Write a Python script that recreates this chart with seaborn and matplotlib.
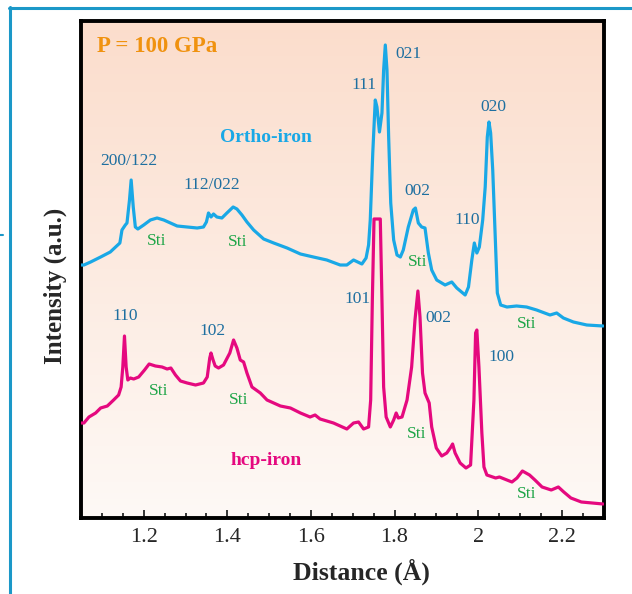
import numpy as np
import pandas as pd
import matplotlib
matplotlib.use("Agg")
import matplotlib.pyplot as plt
from matplotlib.ticker import MultipleLocator, FuncFormatter
from matplotlib.lines import Line2D
import seaborn as sns

# ---------------- data ----------------
ortho_d = [1.051, 1.057, 1.073, 1.097, 1.120, 1.143, 1.148, 1.156, 1.160, 1.166,
           1.170, 1.175, 1.180, 1.186, 1.200, 1.216, 1.232, 1.248, 1.264, 1.280,
           1.304, 1.328, 1.343, 1.350, 1.355, 1.361, 1.367, 1.375, 1.387, 1.399,
           1.414, 1.423, 1.435, 1.447, 1.463, 1.487, 1.511, 1.543, 1.575, 1.606,
           1.638, 1.670, 1.686, 1.702, 1.722, 1.732, 1.738, 1.742, 1.748, 1.754,
           1.758, 1.764, 1.770, 1.774, 1.778, 1.782, 1.786, 1.791, 1.798, 1.806,
           1.814, 1.821, 1.833, 1.845, 1.850, 1.857, 1.865, 1.873, 1.881, 1.889,
           1.901, 1.921, 1.937, 1.949, 1.969, 1.977, 1.985, 1.991, 1.997, 2.003,
           2.011, 2.017, 2.022, 2.026, 2.030, 2.035, 2.041, 2.046, 2.054, 2.069,
           2.092, 2.116, 2.140, 2.172, 2.188, 2.204, 2.228, 2.260, 2.299]
ortho_i = [253, 253, 256, 261, 266, 275, 288, 293, 295, 318,
           338, 311, 291, 289, 293, 298, 300, 298, 295, 292,
           291, 290, 291, 296, 305, 301, 304, 301, 300, 305,
           311, 309, 303, 296, 288, 279, 275, 270, 264, 261,
           258, 253, 253, 258, 254, 260, 273, 298, 365, 418,
           411, 386, 405, 448, 473, 448, 381, 315, 278, 263,
           261, 268, 291, 308, 310, 295, 291, 290, 265, 248,
           238, 233, 236, 230, 223, 231, 258, 275, 265, 271,
           298, 331, 381, 396, 385, 348, 281, 225, 213, 211,
           212, 211, 208, 203, 205, 200, 196, 193, 192]

hcp_d = [1.051, 1.057, 1.069, 1.085, 1.097, 1.113, 1.128, 1.140, 1.146, 1.150,
         1.154, 1.158, 1.162, 1.168, 1.176, 1.188, 1.202, 1.213, 1.228, 1.244,
         1.256, 1.265, 1.276, 1.288, 1.304, 1.324, 1.343, 1.352, 1.358, 1.361,
         1.366, 1.371, 1.379, 1.391, 1.406, 1.415, 1.423, 1.431, 1.439, 1.447,
         1.459, 1.479, 1.495, 1.527, 1.551, 1.575, 1.598, 1.610, 1.622, 1.654,
         1.686, 1.702, 1.714, 1.726, 1.738, 1.743, 1.747, 1.751, 1.766, 1.770,
         1.774, 1.780, 1.790, 1.798, 1.804, 1.809, 1.818, 1.830, 1.841, 1.849,
         1.856, 1.861, 1.867, 1.873, 1.883, 1.889, 1.900, 1.913, 1.925, 1.935,
         1.939, 1.945, 1.957, 1.971, 1.982, 1.990, 1.994, 1.997, 2.002, 2.009,
         2.014, 2.021, 2.042, 2.051, 2.063, 2.081, 2.093, 2.106, 2.123, 2.136,
         2.153, 2.175, 2.192, 2.205, 2.222, 2.247, 2.273, 2.299]
hcp_i = [95, 95, 101, 105, 110, 112, 118, 123, 131, 151,
         182, 151, 138, 140, 139, 141, 148, 154, 152, 151,
         149, 150, 143, 137, 135, 133, 135, 141, 160, 165,
         158, 152, 150, 153, 165, 178, 170, 158, 156, 145,
         131, 125, 118, 112, 110, 105, 101, 103, 99, 95,
         89, 95, 96, 89, 91, 118, 218, 299, 299, 218,
         131, 101, 91, 98, 105, 100, 101, 118, 151, 198,
         227, 201, 145, 125, 115, 91, 70, 62, 65, 71,
         74, 65, 55, 50, 53, 118, 185, 188, 151, 85,
         51, 43, 40, 41, 39, 36, 40, 47, 43, 38,
         31, 28, 31, 26, 20, 16, 15, 14]

ortho_labels = ["200/122", "112/022", "111", "021", "002", "020", "110"]
ortho_label_d = [1.164, 1.364, 1.726, 1.834, 1.855, 2.037, 1.973]
ortho_label_i = [357, 333, 433, 464, 327, 411, 298]
hcp_labels = ["110", "102", "101", "002", "100"]
hcp_label_d = [1.156, 1.364, 1.712, 1.904, 2.055]
hcp_label_i = [202, 187, 219, 200, 161]
sti_d = [1.232, 1.424, 1.855, 2.115, 1.236, 1.427, 1.852, 2.115]
sti_i = [277, 276, 256, 194, 127, 118.5, 84, 23.5]
x_ticks = [1.2, 1.4, 1.6, 1.8, 2.0, 2.2]

# ---------------- style ----------------
sns.set_style("ticks")
plt.rcParams["font.family"] = ["Liberation Serif", "DejaVu Serif"]
plt.rcParams["mathtext.fontset"] = "stix"

C_BLUE = "#19a8e6"
C_MAG = "#e5097f"
C_LAB = "#1e6fa0"
C_GREEN = "#1fa548"
C_ORANGE = "#f0920f"
C_FRAME = "#1b98c8"

fig = plt.figure(figsize=(6.32, 5.94), dpi=100)
ax = fig.add_axes([81 / 632, 1 - 518 / 594, 522.5 / 632, 497.5 / 594])

# background gradient
top = np.array([251, 221, 204]) / 255
bot = np.array([254, 249, 246]) / 255
t = np.linspace(0, 1, 256)[:, None]
grad = (top[None, :] * (1 - t) + bot[None, :] * t)[:, None, :]
ax.imshow(grad, extent=[0, 1, 0, 1], transform=ax.transAxes, aspect="auto",
          zorder=0, interpolation="bilinear")

df_o = pd.DataFrame({"d": ortho_d, "I": ortho_i})
df_h = pd.DataFrame({"d": hcp_d, "I": hcp_i})
sns.lineplot(data=df_o, x="d", y="I", ax=ax, color=C_BLUE, lw=2.3,
             estimator=None, sort=False, zorder=3)
sns.lineplot(data=df_h, x="d", y="I", ax=ax, color=C_MAG, lw=2.3,
             estimator=None, sort=False, zorder=3)

ax.set_xlim(1.05, 2.30)
ax.set_ylim(0, 497.5)

# axes styling
for s in ax.spines.values():
    s.set_linewidth(2.8)
    s.set_color("black")
    s.set_visible(True)
ax.set_yticks([])
ax.set_xticks(x_ticks)
ax.xaxis.set_minor_locator(MultipleLocator(0.05))
ax.xaxis.set_major_formatter(FuncFormatter(lambda v, p: f"{v:g}"))
ax.tick_params(axis="x", which="major", direction="in", length=6, width=1.3,
               labelsize=16, pad=7, top=False)
ax.tick_params(axis="x", which="minor", direction="in", length=3.5, width=1.3,
               top=False)

ax.set_xlabel("Distance (Å)", fontsize=18.5, fontweight="bold")
ax.xaxis.set_label_coords(0.536, -0.108)
ax.xaxis.label.set_verticalalignment("center")
ax.set_ylabel("Intensity (a.u.)", fontsize=18, fontweight="bold")
ax.yaxis.set_label_coords(-0.05, 0.466)
ax.yaxis.label.set_verticalalignment("center")

# texts
ax.text(0.0306, 0.947, "P = 100 GPa", transform=ax.transAxes, color=C_ORANGE,
        fontsize=16.5, fontweight="bold", ha="left", va="center")
ax.text(1.493, 380.5, "Ortho-iron", color=C_BLUE, fontsize=14,
        fontweight="bold", ha="center", va="center")
ax.text(1.492, 57.5, "hcp-iron", color=C_MAG, fontsize=14,
        fontweight="bold", ha="center", va="center")
for lab, xd, yi in zip(ortho_labels, ortho_label_d, ortho_label_i):
    ax.text(xd, yi, lab, color=C_LAB, fontsize=12.5, ha="center", va="center")
for lab, xd, yi in zip(hcp_labels, hcp_label_d, hcp_label_i):
    ax.text(xd, yi, lab, color=C_LAB, fontsize=12.5, ha="center", va="center")
for xd, yi in zip(sti_d, sti_i):
    ax.text(xd, yi, "Sti", color=C_GREEN, fontsize=12.5, ha="center", va="center")

# outer blue frame (figure decoration)
W, H = 632, 594
fig.add_artist(Line2D([9 / W, 1.0], [1 - 7.5 / H, 1 - 7.5 / H],
                      transform=fig.transFigure, color=C_FRAME, lw=2.2))
fig.add_artist(Line2D([10.5 / W, 10.5 / W], [1 - 6.5 / H, 0.0],
                      transform=fig.transFigure, color=C_FRAME, lw=2.2))
fig.add_artist(Line2D([0, 3 / W], [1 - 235 / H, 1 - 235 / H],
                      transform=fig.transFigure, color=C_FRAME, lw=1.5))

fig.savefig("out.png", dpi=100)
